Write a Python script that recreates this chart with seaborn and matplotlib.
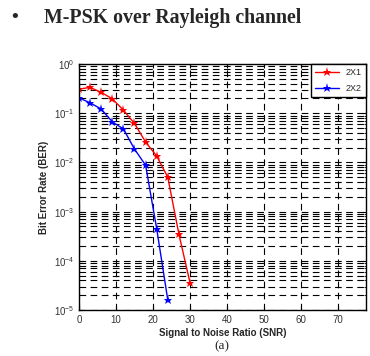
import numpy as np
import pandas as pd
import matplotlib
matplotlib.use("Agg")
import matplotlib.pyplot as plt
import seaborn as sns
from matplotlib.ticker import LogLocator

# ── Дані ──────────────────────────────────────────────────
snr_2x1 = [0, 3, 6, 9, 12, 15, 18, 21, 24, 27, 30]
ber_2x1 = [0.31, 0.336, 0.266, 0.197, 0.116, 0.062, 0.026, 0.0135, 0.0050, 3.5e-4, 3.6e-5]
snr_2x2 = [0, 3, 6, 9, 12, 15, 18, 21, 24]
ber_2x2 = [0.206, 0.163, 0.122, 0.067, 0.048, 0.0187, 0.0088, 4.5e-4, 1.6e-5]
labels = ["2X1", "2X2"]
colors = ["#ff0000", "#0000ff"]

df = pd.concat([
    pd.DataFrame({"SNR": snr_2x1, "BER": ber_2x1, "scheme": labels[0]}),
    pd.DataFrame({"SNR": snr_2x2, "BER": ber_2x2, "scheme": labels[1]}),
])

sns.set_style("ticks")
plt.rcParams["font.family"] = "Liberation Sans"
plt.rcParams["mathtext.default"] = "regular"

fig = plt.figure(figsize=(3.70, 3.56), dpi=100)
ax = fig.add_axes([0.2135, 0.129, 0.776, 0.691])

sns.lineplot(data=df, x="SNR", y="BER", hue="scheme", palette=colors,
             marker="*", markersize=6.5, markeredgewidth=0, linewidth=1.0,
             ax=ax, legend=True)
ax.set_yscale("log")
ax.set_xlim(0, 77.6)
ax.set_ylim(1e-5, 1)
ax.set_xticks([0, 10, 20, 30, 40, 50, 60, 70])
ax.yaxis.set_major_locator(LogLocator(base=10, numticks=10))
ax.yaxis.set_minor_locator(LogLocator(base=10, subs=np.arange(2, 10), numticks=10))

# пунктирна сітка, як у MATLAB
ax.grid(True, which="major", axis="both", color="black", linestyle=(0, (6, 4)), linewidth=0.8)
ax.grid(True, which="minor", axis="y", color="black", linestyle=(0, (6, 4)), linewidth=0.8)
ax.tick_params(which="both", direction="in", labelsize=7, colors="black",
               labelcolor="#333333", top=True, right=True)
ax.tick_params(which="major", length=3)
ax.tick_params(which="minor", length=1.5)
for s in ax.spines.values():
    s.set_linewidth(1.0)
    s.set_color("black")

ax.set_xlabel("Signal to Noise Ratio (SNR)", fontsize=7, fontweight="bold", labelpad=2)
ax.set_ylabel("Bit Error Rate (BER)", fontsize=7, fontweight="bold", labelpad=3)

leg = ax.legend(loc="upper right", fontsize=6.5, frameon=True, fancybox=False,
                edgecolor="black", framealpha=1, borderaxespad=0,
                handlelength=2.6, borderpad=0.45, labelspacing=0.8)
leg.get_frame().set_linewidth(1.0)

fig.text(0.03, 0.95, "\u2022", fontsize=14, fontweight="bold",
         family="Liberation Serif", va="center")
fig.text(0.12, 0.95, "M-PSK over Rayleigh channel", fontsize=14.3, fontweight="bold",
         family="Liberation Serif", va="center")
fig.text(0.60, 0.028, "(a)", fontsize=9.5, family="Liberation Serif",
         ha="center", va="center")

fig.savefig("out.png", dpi=100)
